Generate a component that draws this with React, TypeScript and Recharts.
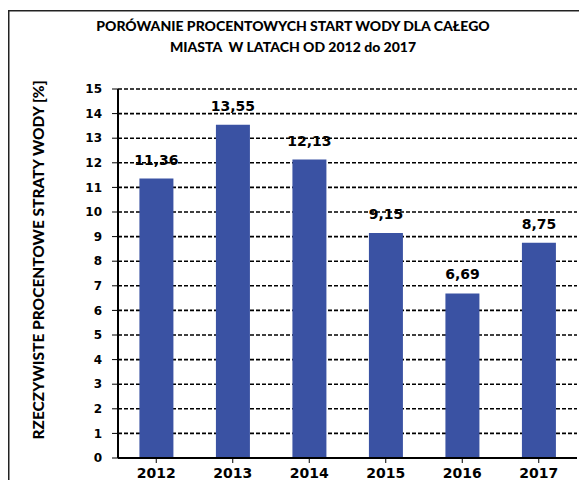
import { BarChart, Bar, XAxis, YAxis, CartesianGrid, LabelList } from 'recharts'

const years = ['2012', '2013', '2014', '2015', '2016', '2017']
const losses = [11.36, 13.55, 12.13, 9.15, 6.69, 8.75]
const yTicks = [0, 1, 2, 3, 4, 5, 6, 7, 8, 9, 10, 11, 12, 13, 14, 15]

const titleLines = [
  'PORÓWANIE PROCENTOWYCH START WODY DLA CAŁEGO',
  'MIASTA  W LATACH OD 2012 do 2017'
]
const yTitle = 'RZECZYWISTE PROCENTOWE STRATY WODY [%]'

const data = years.map((year, i) => ({ year, value: losses[i] }))

const tickFont = { fontFamily: 'DejaVu Sans', fontWeight: 700, fill: '#000' }

// rotated axis title, drawn left of the tick labels
const YTitle = () => (
  <text
    x={38}
    y={260}
    transform="rotate(-90 38 260)"
    textAnchor="middle"
    dominantBaseline="central"
    fontFamily="Lato"
    fontWeight={900}
    fontSize={15.5}
    fill="#000"
  >
    {yTitle}
  </text>
)

export default function App() {
  return (
    <div style={{ position: 'fixed', left: 0, top: 0, width: 579, height: 480, overflow: 'hidden', background: '#fff' }}>
      <svg width={579} height={480} style={{ position: 'absolute', left: 0, top: 0 }}>
        <path d="M8.75 480 V10.75 H579" fill="none" stroke="#222" strokeWidth={1.5} />
      </svg>
      <div
        style={{
          position: 'absolute',
          left: 0,
          top: 15,
          width: 586,
          textAlign: 'center',
          fontFamily: 'Lato',
          fontWeight: 900,
          fontSize: 14,
          lineHeight: '21px',
          color: '#000',
          whiteSpace: 'pre'
        }}
      >
        {titleLines.map((line) => (
          <div key={line}>{line}</div>
        ))}
      </div>
      <div style={{ position: 'absolute', left: 0, top: 0 }}>
        <BarChart
          width={579}
          height={480}
          data={data}
          margin={{ top: 89, right: 2, left: 0, bottom: 0 }}
          barCategoryGap="28%"
        >
          <CartesianGrid
            vertical={false}
            stroke="#000"
            strokeWidth={1.6}
            strokeDasharray="4 2"
          />
          <XAxis
            dataKey="year"
            height={22}
            tickSize={5}
            tickMargin={5}
            interval={0}
            axisLine={{ stroke: '#000', strokeWidth: 2 }}
            tickLine={{ stroke: '#000', strokeWidth: 1 }}
            tick={{ ...tickFont, fontSize: 14 }}
          />
          <YAxis
            domain={[0, 15]}
            ticks={yTicks}
            interval={0}
            width={118}
            tickSize={6}
            tickMargin={10}
            axisLine={{ stroke: '#000', strokeWidth: 2 }}
            tickLine={{ stroke: '#000', strokeWidth: 1 }}
            tick={{ ...tickFont, fontSize: 12 }}
            label={{ content: () => <YTitle /> }}
          />
          <Bar dataKey="value" fill="#3A52A3" isAnimationActive={false}>
            <LabelList
              dataKey="value"
              position="top"
              offset={14}
              formatter={(v: any) => Number(v).toFixed(2).replace('.', ',')}
              style={{ ...tickFont, fontSize: 14 }}
            />
          </Bar>
        </BarChart>
      </div>
    </div>
  )
}
